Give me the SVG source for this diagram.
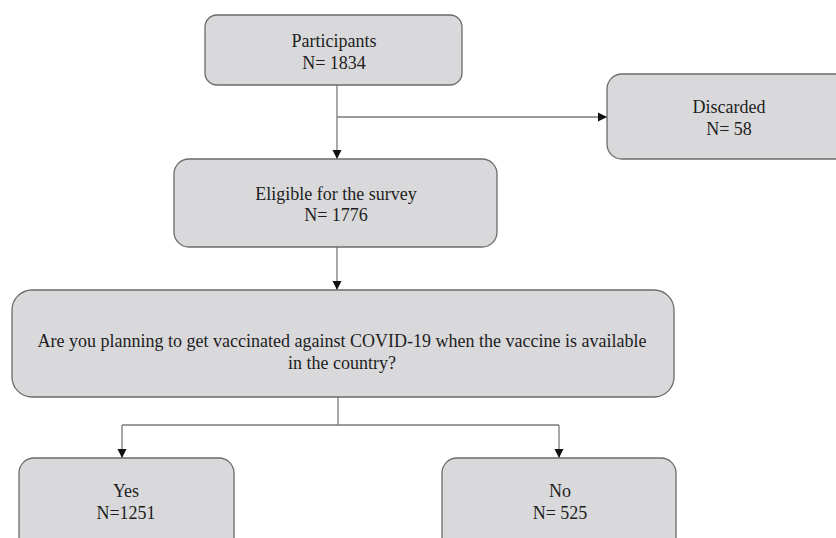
<svg xmlns="http://www.w3.org/2000/svg" width="836" height="538" viewBox="0 0 836 538">
<style>
.box{fill:#d9d9db;stroke:#6b6b6b;stroke-width:1.3}
.t{font-family:"Liberation Serif","Times New Roman",serif;font-size:18px;fill:#1e1e1e;text-anchor:middle}
.c{fill:none;stroke:#7a7a7a;stroke-width:1.3}
</style>
<defs>
<marker id="ah" markerWidth="10" markerHeight="10" refX="9" refY="5" orient="auto" markerUnits="userSpaceOnUse">
<path d="M0,0.5 L9,5 L0,9.5 Z" fill="#111"/>
</marker>
</defs>
<rect width="836" height="538" fill="#fff"/>
<g id="connectors">
<path class="c" d="M337,85 V159" marker-end="url(#ah)"/>
<path class="c" d="M337,117 H607" marker-end="url(#ah)"/>
<path class="c" d="M337,247 V290" marker-end="url(#ah)"/>
<path class="c" d="M338,397 V425"/>
<path class="c" d="M122,425 H559"/>
<path class="c" d="M122,425 V458" marker-end="url(#ah)"/>
<path class="c" d="M559,425 V458" marker-end="url(#ah)"/>
</g>
<g id="participants">
<rect class="box" x="205" y="15" width="257" height="70" rx="12"/>
<text class="t" x="334" y="47">Participants</text>
<text class="t" x="334" y="69">N= 1834</text>
</g>
<g id="discarded">
<rect class="box" x="607" y="74" width="250" height="85" rx="15"/>
<text class="t" x="729" y="113">Discarded</text>
<text class="t" x="729" y="135">N= 58</text>
</g>
<g id="eligible">
<rect class="box" x="174" y="159" width="323" height="88" rx="15"/>
<text class="t" x="336" y="200">Eligible for the survey</text>
<text class="t" x="336" y="221">N= 1776</text>
</g>
<g id="question">
<rect class="box" x="12" y="290" width="662" height="107" rx="20"/>
<text class="t" x="342" y="347">Are you planning to get vaccinated against COVID-19 when the vaccine is available</text>
<text class="t" x="342" y="369">in the country?</text>
</g>
<g id="yes">
<rect class="box" x="19" y="458" width="215" height="100" rx="15"/>
<text class="t" x="126" y="497">Yes</text>
<text class="t" x="126" y="519">N=1251</text>
</g>
<g id="no">
<rect class="box" x="442" y="458" width="234" height="100" rx="15"/>
<text class="t" x="560" y="497">No</text>
<text class="t" x="560" y="519">N= 525</text>
</g>
</svg>
